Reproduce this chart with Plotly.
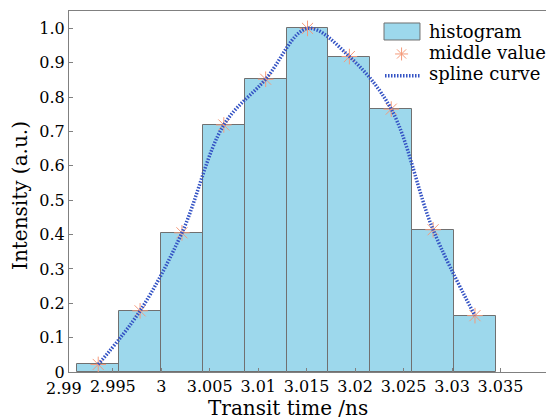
import plotly.graph_objects as go

# ---- data ----
bin_centers = [2.99349, 2.99781, 3.00213, 3.00645, 3.01077, 3.01509, 3.01941, 3.02373, 3.02805, 3.03237]
bin_width = 0.00432
intensity = [0.022, 0.178, 0.405, 0.719, 0.852, 1.0, 0.918, 0.765, 0.414, 0.164]

x_ticks = [2.99, 2.995, 3.0, 3.005, 3.01, 3.015, 3.02, 3.025, 3.03, 3.035]
x_tick_labels = ["2.99", "2.995", "3", "3.005", "3.01", "3.015", "3.02", "3.025", "3.03", "3.035"]
y_ticks = [0, 0.1, 0.2, 0.3, 0.4, 0.5, 0.6, 0.7, 0.8, 0.9, 1.0]
y_tick_labels = ["0", "0.1", "0.2", "0.3", "0.4", "0.5", "0.6", "0.7", "0.8", "0.9", "1.0"]

legend_labels = ["histogram", "middle value", "spline curve"]

# ---- styles ----
FONT = "DejaVu Serif"
BAR_FILL = "#9dd8ec"
BAR_EDGE = "#707070"
STAR = "#f59a7a"
CURVE = "#3352c4"
AXIS = "#808080"
X_MIN, X_MAX = 2.990475, 3.0397

fig = go.Figure()

fig.add_trace(go.Bar(
    x=bin_centers, y=intensity, width=bin_width,
    marker=dict(color=BAR_FILL, line=dict(color=BAR_EDGE, width=1)),
    name=legend_labels[0], showlegend=False,
))

fig.add_trace(go.Scatter(
    x=bin_centers, y=intensity, mode="markers",
    marker=dict(symbol="asterisk-open", size=13, color=STAR, line=dict(color=STAR, width=1)),
    name=legend_labels[1], showlegend=False,
))

fig.add_trace(go.Scatter(
    x=bin_centers, y=intensity, mode="lines",
    line=dict(color=CURVE, width=3.5, dash="1.5px,1.5px", shape="spline", smoothing=1.0),
    name=legend_labels[2], showlegend=False,
))

# ---- custom legend (paper coordinates) ----
shapes = [
    dict(type="rect", xref="paper", yref="paper", x0=0.6604, x1=0.7358, y0=0.9197, y1=0.9668,
         fillcolor=BAR_FILL, line=dict(color=BAR_EDGE, width=1)),
    dict(type="path", xref="paper", yref="paper", xsizemode="pixel", ysizemode="pixel",
         xanchor=0.6972, yanchor=0.881,
         path="M-6.5,0L6.5,0M0,-6.5L0,6.5M-4.6,-4.6L4.6,4.6M-4.6,4.6L4.6,-4.6",
         line=dict(color=STAR, width=1)),
    dict(type="line", xref="paper", yref="paper", x0=0.6625, x1=0.7358, y0=0.8208, y1=0.8208,
         line=dict(color=CURVE, width=3.5, dash="1.5px,1.5px")),
]

annotations = []
for lab, yy in zip(legend_labels, [0.9432, 0.885, 0.8269]):
    annotations.append(dict(text=lab, xref="paper", yref="paper", x=0.7505, y=yy,
                            xanchor="left", yanchor="middle", showarrow=False,
                            font=dict(family=FONT, size=18, color="black")))

# tick labels that fall just outside the visible range: place them at the
# axis' linear position, expressed as a plot fraction
shown_vals, shown_text = [], []
for v, t in zip(x_ticks, x_tick_labels):
    if X_MIN <= v <= X_MAX:
        shown_vals.append(v)
        shown_text.append(t)
    else:
        frac = (v - X_MIN) / (X_MAX - X_MIN)
        annotations.append(dict(text=t, xref="paper", yref="paper", x=frac, y=0, yshift=-5,
                                xanchor="center", yanchor="top", showarrow=False,
                                font=dict(family=FONT, size=16, color="black")))

annotations.append(dict(text="Transit time /ns", xref="paper", yref="paper", x=0.459, y=-0.1025,
                        yshift=1, xanchor="center", yanchor="middle", showarrow=False,
                        font=dict(family=FONT, size=20, color="black")))
annotations.append(dict(text="Intensity (a.u.)", xref="paper", yref="paper", x=-0.1027, y=0.4875,
                        xanchor="center", yanchor="middle", showarrow=False, textangle=-90,
                        font=dict(family=FONT, size=20, color="black")))

fig.update_layout(
    width=546, height=417,
    margin=dict(l=69, r=0, t=11, b=45),
    paper_bgcolor="white", plot_bgcolor="white",
    font=dict(family=FONT, size=16, color="black"),
    showlegend=False,
    bargap=0,
    shapes=shapes,
    annotations=annotations,
    xaxis=dict(range=[X_MIN, X_MAX], tickvals=shown_vals, ticktext=shown_text,
               showgrid=False, zeroline=False, showline=True, linecolor=AXIS, linewidth=1,
               mirror=True, ticks="inside", ticklen=4, tickcolor=AXIS,
               tickfont=dict(family=FONT, size=16, color="black")),
    yaxis=dict(range=[0, 1.0506], tickvals=y_ticks, ticktext=y_tick_labels,
               showgrid=False, zeroline=False, showline=True, linecolor=AXIS, linewidth=1,
               ticks="inside", ticklen=4, tickcolor=AXIS,
               tickfont=dict(family=FONT, size=16, color="black")),
)

fig.write_html("out.html", config={"displayModeBar": False},
               post_script="document.body.style.margin='0';")
